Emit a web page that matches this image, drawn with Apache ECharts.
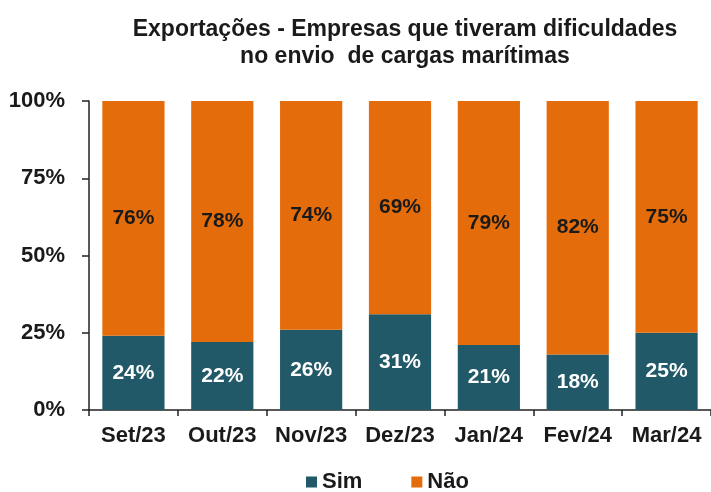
<!DOCTYPE html>
<html lang="pt">
<head>
	<meta charset="utf-8">
	<title>Exportações - cargas marítimas</title>
	<script src="https://cdn.jsdelivr.net/npm/echarts@6/dist/echarts.min.js"></script>
</head>
<style>
	html,body{width: 100%; height: 100%; padding: 0; margin: 0; overflow: hidden; background: #fff;}
	.main{width: 711px; height: 492px;}
</style>
<body>
	<div id="main" class="main"></div>
</body>
<script type="text/javascript">
	var meses = ['Set/23', 'Out/23', 'Nov/23', 'Dez/23', 'Jan/24', 'Fev/24', 'Mar/24'];
	var sim = [24, 22, 26, 31, 21, 18, 25];
	var nao = [76, 78, 74, 69, 79, 82, 75];
	var yTicks = [0, 25, 50, 75, 100];

	var fonte = '"Liberation Sans", Arial, sans-serif';
	var myChart = echarts.init(document.getElementById('main'));
	var option = {
		animation: false,
		title: {
			text: 'Exportações - Empresas que tiveram dificuldades\nno envio  de cargas marítimas',
			left: 400,
			top: 11,
			textAlign: 'center',
			textStyle: {
				fontFamily: fonte,
				fontSize: 23,
				fontWeight: 'bold',
				color: '#1a1a1a',
				lineHeight: 27
			}
		},
		legend: {
			top: 466,
			left: 301,
			itemWidth: 11,
			itemHeight: 11,
			itemGap: 49,
			icon: 'rect',
			textStyle: {fontFamily: fonte, fontSize: 22, fontWeight: 'bold', color: '#1a1a1a'},
			data: ['Sim', 'Não']
		},
		grid: {left: 89, right: -1, top: 101, bottom: 82},
		xAxis: {
			type: 'category',
			data: meses,
			axisLine: {lineStyle: {color: '#222', width: 1.5}},
			axisTick: {show: true, length: 6, lineStyle: {color: '#222', width: 1.5}},
			axisLabel: {fontFamily: fonte, fontSize: 22, fontWeight: 'bold', color: '#1a1a1a', margin: 15, interval: 0}
		},
		yAxis: {
			type: 'value',
			min: yTicks[0],
			max: yTicks[yTicks.length - 1],
			interval: 25,
			axisLine: {show: true, lineStyle: {color: '#222', width: 1.5}},
			axisTick: {show: true, length: 7, lineStyle: {color: '#222', width: 1.5}},
			splitLine: {show: false},
			axisLabel: {fontFamily: fonte, fontSize: 22, fontWeight: 'bold', color: '#1a1a1a', margin: 24, formatter: '{value}%'}
		},
		series: [{
			name: 'Sim',
			type: 'bar',
			stack: 'total',
			barCategoryGap: '30%',
			data: sim,
			itemStyle: {color: '#215968'},
			label: {show: true, position: 'inside', formatter: '{c}%', fontFamily: fonte, fontSize: 21, fontWeight: 'bold', color: '#fff'}
		}, {
			name: 'Não',
			type: 'bar',
			stack: 'total',
			barCategoryGap: '30%',
			data: nao,
			itemStyle: {color: '#E46C0A'},
			label: {show: true, position: 'inside', formatter: '{c}%', fontFamily: fonte, fontSize: 21, fontWeight: 'bold', color: '#1a1a1a'}
		}]
	};
	myChart.setOption(option);
</script>
</html>
